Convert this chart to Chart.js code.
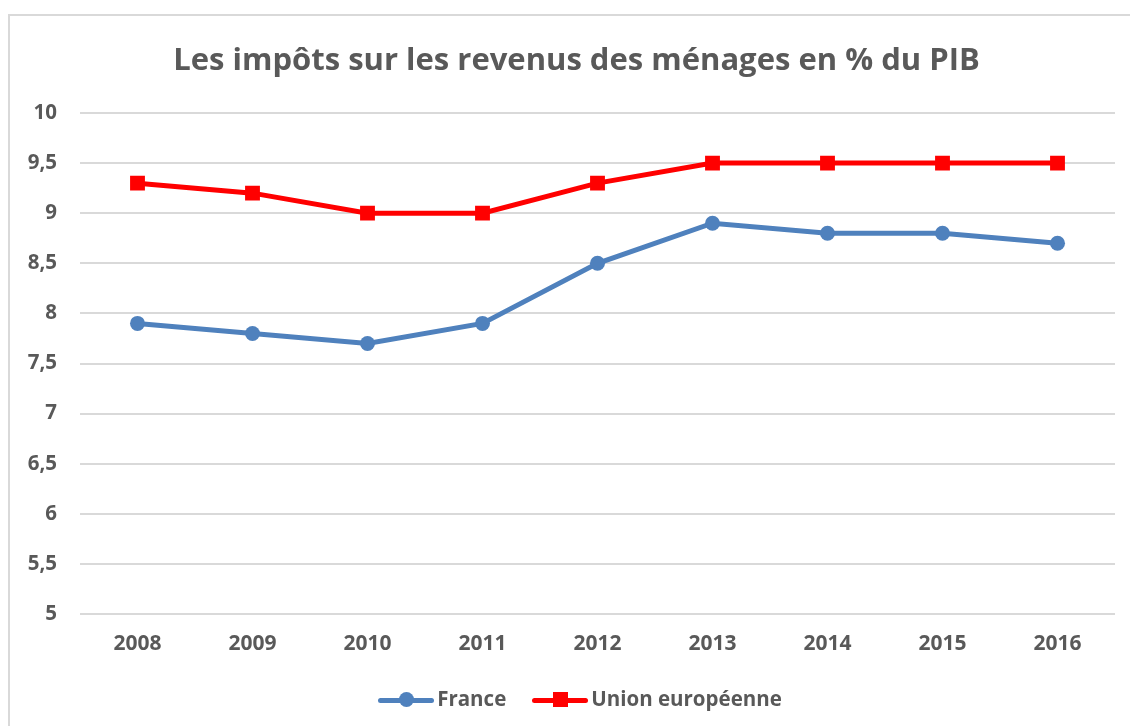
<!DOCTYPE html>
<html lang="fr">
<head>
<meta charset="utf-8">
<script src="https://cdn.jsdelivr.net/npm/chart.js@4/dist/chart.umd.min.js"></script>
<style>
  html, body { margin: 0; padding: 0; background: #fff; }
  body { width: 1130px; height: 726px; position: relative; overflow: hidden; font-family: "Open Sans", sans-serif; }
  #frame { position: absolute; left: 8px; top: 14px; width: 1200px; height: 800px;
           border-left: 2px solid #d9d9d9; border-top: 2px solid #d9d9d9; }
  #chart { position: absolute; left: 0; top: 0; }
  #title { position: absolute; left: 38px; top: 37px; width: 1077px; text-align: center;
           font-weight: bold; font-size: 31px; line-height: 42px; color: #595959; }
  #legend { position: absolute; left: 30px; top: 681px; width: 1100px; text-align: center;
            font-weight: bold; font-size: 20.5px; color: #595959; }
  .item { display: inline-block; margin: 0 13px; vertical-align: middle; }
  .key { display: inline-block; position: relative; width: 56px; height: 16px; vertical-align: middle; margin-right: 3px; }
  .key .ln { position: absolute; left: 0; right: 0; top: 6px; height: 5px; border-radius: 3px; }
  .key .mk { position: absolute; left: 21px; top: 0; width: 15px; height: 15px; }
</style>
</head>
<body>
<div id="frame"></div>
<canvas id="chart" width="1130" height="726"></canvas>
<div id="title">Les impôts sur les revenus des ménages en % du PIB</div>
<div id="legend"></div>
<script>
const years = ['2008', '2009', '2010', '2011', '2012', '2013', '2014', '2015', '2016'];
const france = [7.9, 7.8, 7.7, 7.9, 8.5, 8.9, 8.8, 8.8, 8.7];
const unionEuropeenne = [9.3, 9.2, 9.0, 9.0, 9.3, 9.5, 9.5, 9.5, 9.5];

const grey = '#595959';
const blue = '#4f81bd';
const red = '#ff0000';
const fontName = 'Open Sans';

const series = [
    { label: 'France', data: france, color: blue, style: 'circle', radius: 7.5 },
    { label: 'Union européenne', data: unionEuropeenne, color: red, style: 'rect', radius: 10.5 }
];

new Chart(document.getElementById('chart'), {
    type: 'line',
    data: {
        labels: years,
        datasets: series.map(s => ({
            label: s.label,
            data: s.data,
            borderColor: s.color,
            backgroundColor: s.color,
            borderWidth: 5,
            pointStyle: s.style,
            pointRadius: s.radius,
            pointHoverRadius: s.radius,
            pointBorderWidth: 0,
            tension: 0
        }))
    },
    options: {
        responsive: false,
        animation: false,
        devicePixelRatio: 1,
        layout: { padding: { top: 113, left: 0, right: 15, bottom: 62 } },
        plugins: {
            legend: { display: false },
            tooltip: { enabled: false },
            title: { display: false }
        },
        scales: {
            x: {
                offset: true,
                grid: { display: false, drawTicks: false },
                border: { display: false },
                ticks: { color: grey, padding: 17, font: { family: fontName, size: 21, weight: 'bold' } },
                afterFit: s => { s.height = 50; }
            },
            y: {
                min: 5,
                max: 10,
                grid: { color: '#d9d9d9', lineWidth: 2, drawTicks: false },
                border: { display: false },
                ticks: {
                    stepSize: 0.5,
                    color: grey,
                    padding: 23,
                    font: { family: fontName, size: 20.5, weight: 'bold' },
                    callback: v => String(v).replace('.', ',')
                },
                afterFit: s => { s.width = 80; }
            }
        }
    }
});

// légende façon Excel : trait + marqueur
const legend = document.getElementById('legend');
series.forEach(s => {
    const item = document.createElement('span');
    item.className = 'item';
    const radius = s.style === 'circle' ? '50%' : '0';
    item.innerHTML = '<span class="key"><span class="ln" style="background:' + s.color + '"></span>' +
        '<span class="mk" style="background:' + s.color + ';border-radius:' + radius + '"></span></span>' + s.label;
    legend.appendChild(item);
});
</script>
</body>
</html>
